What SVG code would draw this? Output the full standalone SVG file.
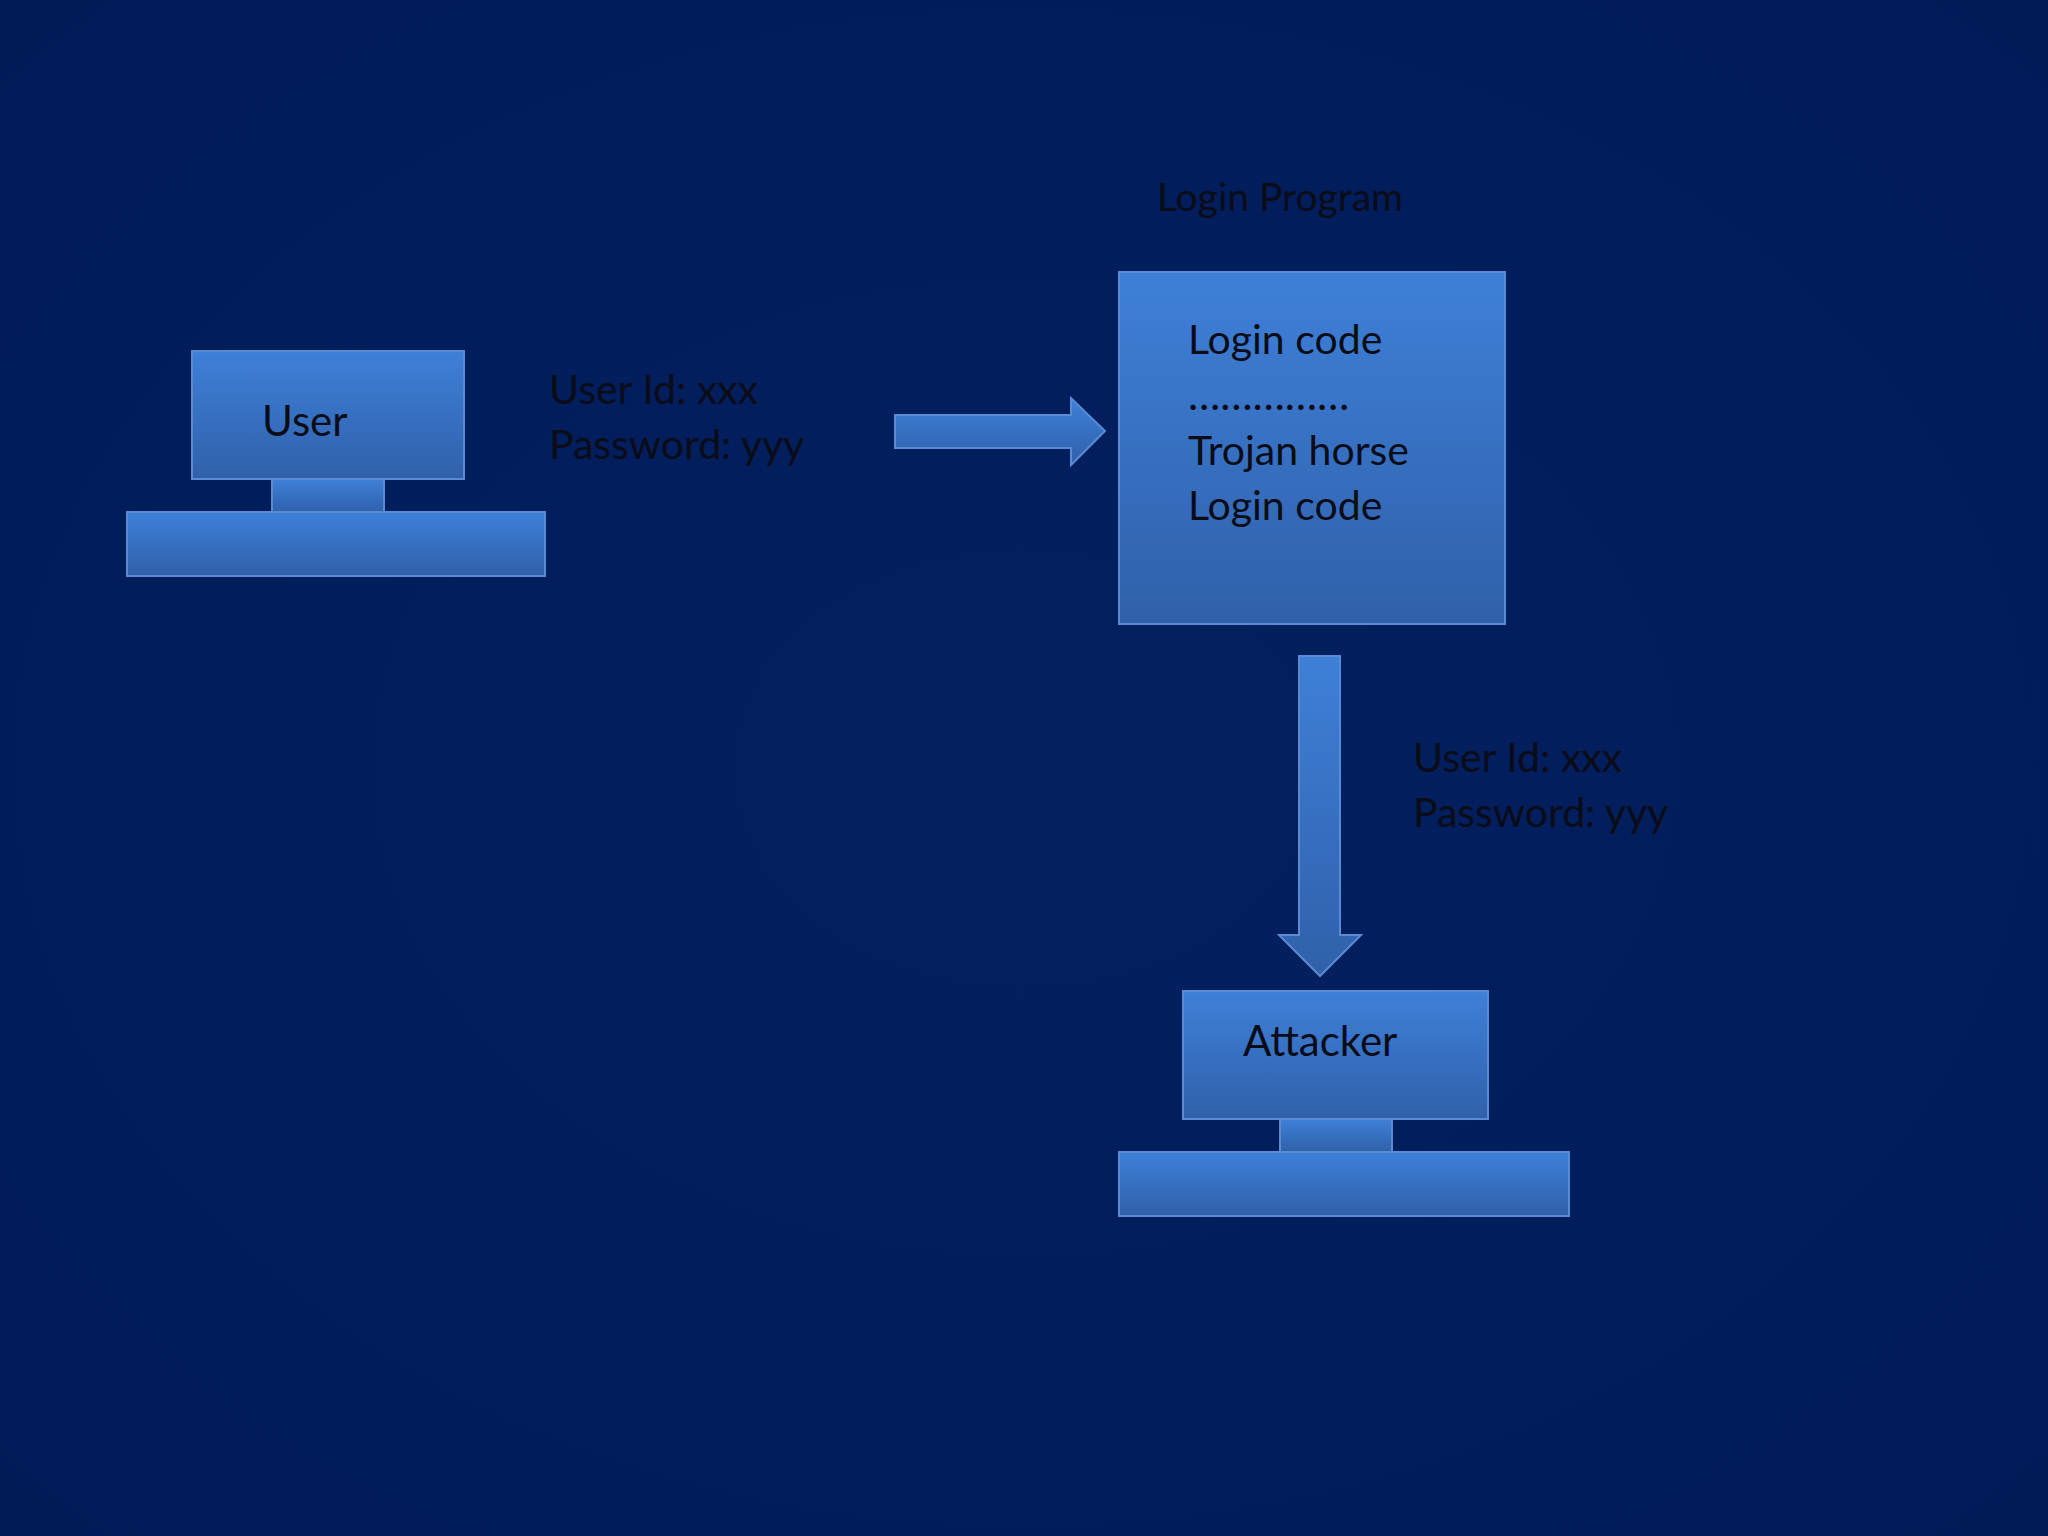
<svg xmlns="http://www.w3.org/2000/svg" width="2048" height="1536" viewBox="0 0 2048 1536">
<defs>
<radialGradient id="bg" cx="50%" cy="50%" r="70%">
<stop offset="0" stop-color="#04205f"/><stop offset="1" stop-color="#001b58"/>
</radialGradient>
<linearGradient id="fill" x1="0" y1="0" x2="0" y2="1">
<stop offset="0" stop-color="#3e80d8"/><stop offset="1" stop-color="#3060aa"/>
</linearGradient>
<style>
.s{fill:url(#fill);stroke:#5a8ad2;stroke-width:2}
.t{font-family:Lato,"Open Sans",sans-serif;fill:#0a0c18}
</style>
</defs>
<rect width="2048" height="1536" fill="url(#bg)"/>
<g id="user">
<rect class="s" x="192" y="351" width="272" height="128"/>
<rect class="s" x="272" y="479" width="112" height="34"/>
<rect class="s" x="127" y="512" width="418" height="64"/>
<text class="t" x="262" y="436" font-size="42">User</text>
</g>
<g id="login">
<text class="t" x="1157" y="211" font-size="39">Login Program</text>
<rect class="s" x="1119" y="272" width="386" height="352"/>
<text class="t" x="1188" y="354" font-size="41">Login code</text>
<text class="t" x="1188" y="410" font-size="43">……………</text>
<text class="t" x="1188" y="465" font-size="41">Trojan horse</text>
<text class="t" x="1188" y="520" font-size="41">Login code</text>
</g>
<g id="attacker">
<rect class="s" x="1183" y="991" width="305" height="128"/>
<rect class="s" x="1280" y="1119" width="112" height="33"/>
<rect class="s" x="1119" y="1152" width="450" height="64"/>
<text class="t" x="1243" y="1056" font-size="42">Attacker</text>
</g>
<g id="connectors">
<path class="s" d="M895 415H1071V398L1105 431L1071 465V448H895Z"/>
<path class="s" d="M1299 656H1340V935H1361L1320 976L1279 935H1299Z"/>
<text class="t" x="549" y="404" font-size="41">User Id: xxx</text>
<text class="t" x="549" y="459" font-size="41">Password: yyy</text>
<text class="t" x="1413" y="772" font-size="41">User Id: xxx</text>
<text class="t" x="1413" y="827" font-size="41">Password: yyy</text>
</g>
</svg>
